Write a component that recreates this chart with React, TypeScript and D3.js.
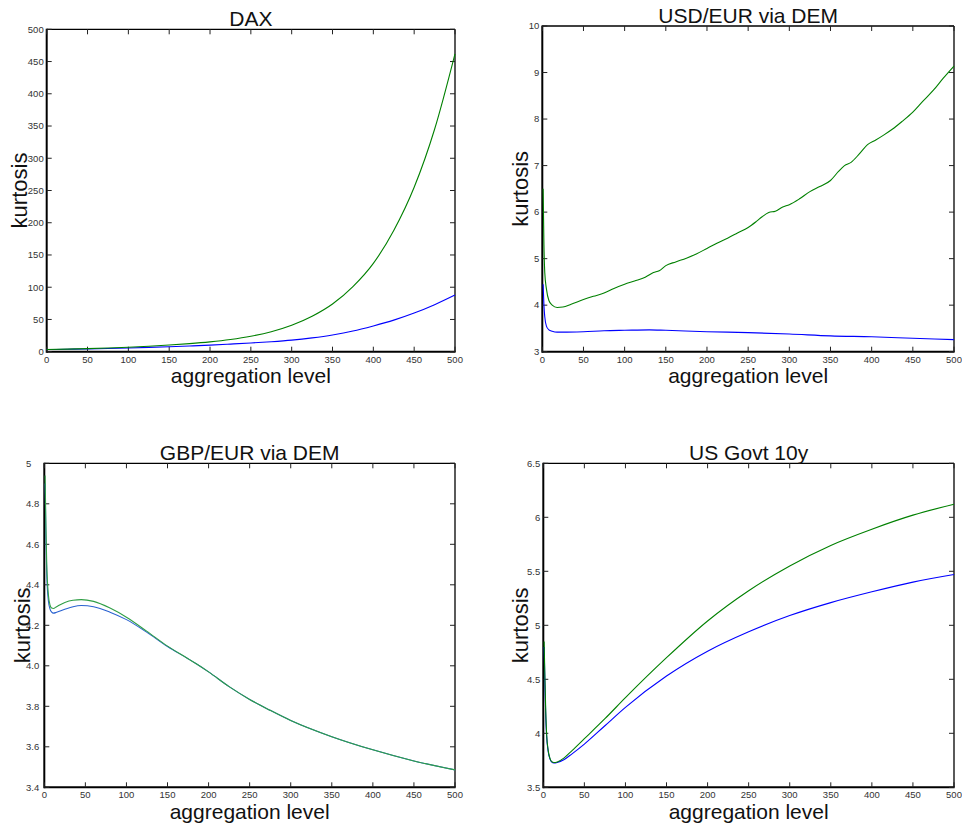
import React from "react";
import * as d3 from "d3";

// ---------- DATA ----------
const daxX = [0, 25, 50, 75, 100, 125, 150, 175, 200, 225, 250, 275, 300, 325, 350, 375, 400, 425, 450, 475, 500];
const daxGreen = [3.5, 4, 4.8, 5.8, 7, 8.5, 10.3, 12.5, 15.3, 19, 24, 31, 41, 55, 74, 101, 137, 188, 255, 345, 462];
const daxBlue = [3.3, 3.8, 4.3, 5, 5.8, 6.7, 7.7, 8.9, 10.2, 11.8, 13.5, 15.5, 18, 21.5, 26, 32, 40, 49, 60, 73, 88];

const usdGreenX = [1, 2, 3, 5, 8, 12, 18, 25, 35, 50, 62, 75, 87, 100, 112, 125, 135, 142, 150, 162, 175, 187, 200, 212, 225, 237, 250, 260, 267, 275, 283, 292, 300, 312, 325, 337, 350, 360, 367, 375, 385, 395, 405, 415, 425, 437, 450, 462, 475, 487, 500];
const usdGreen = [6.5, 5.3, 4.7, 4.35, 4.1, 4.0, 3.95, 3.96, 4.02, 4.12, 4.19, 4.26, 4.36, 4.45, 4.52, 4.6, 4.7, 4.74, 4.85, 4.93, 5.01, 5.1, 5.22, 5.33, 5.44, 5.55, 5.67, 5.8, 5.9, 5.99, 6.02, 6.11, 6.16, 6.28, 6.44, 6.55, 6.68, 6.88, 7.0, 7.07, 7.25, 7.45, 7.55, 7.66, 7.78, 7.95, 8.15, 8.38, 8.62, 8.88, 9.14];
const usdBlueX = [1, 2, 3, 5, 8, 12, 18, 25, 50, 75, 100, 130, 150, 200, 250, 300, 350, 400, 450, 500];
const usdBlue = [4.45, 4.0, 3.75, 3.55, 3.47, 3.44, 3.42, 3.42, 3.43, 3.45, 3.46, 3.47, 3.46, 3.43, 3.41, 3.38, 3.34, 3.32, 3.29, 3.26];

const gbpX = [1, 2, 3, 5, 7, 9, 11, 15, 25, 35, 45, 60, 80, 100, 125, 150, 175, 185, 200, 225, 250, 275, 300, 350, 400, 450, 500];
const gbpGreen = [4.94, 4.68, 4.5, 4.35, 4.3, 4.285, 4.283, 4.292, 4.313, 4.324, 4.327, 4.318, 4.285, 4.24, 4.17, 4.097, 4.035, 4.01, 3.97, 3.897, 3.834, 3.78, 3.73, 3.65, 3.585, 3.53, 3.486];
const gbpBlue = [4.9, 4.63, 4.45, 4.32, 4.28, 4.265, 4.26, 4.264, 4.279, 4.292, 4.298, 4.292, 4.265, 4.228, 4.165, 4.095, 4.035, 4.01, 3.97, 3.897, 3.834, 3.78, 3.73, 3.65, 3.585, 3.53, 3.486];

const govX = [1, 2, 3, 4, 6, 8, 10, 13, 17, 25, 35, 50, 75, 100, 150, 200, 250, 300, 350, 400, 450, 500];
const govGreen = [4.85, 4.5, 4.2, 4.0, 3.84, 3.77, 3.74, 3.73, 3.735, 3.77, 3.84, 3.95, 4.135, 4.33, 4.7, 5.04, 5.32, 5.55, 5.74, 5.89, 6.02, 6.12];
const govBlue = [4.8, 4.45, 4.15, 3.98, 3.83, 3.765, 3.735, 3.725, 3.73, 3.755, 3.81, 3.9, 4.07, 4.24, 4.53, 4.76, 4.94, 5.09, 5.21, 5.31, 5.4, 5.47];

const xTicks = [0, 50, 100, 150, 200, 250, 300, 350, 400, 450, 500];
const daxYTicks = [0, 50, 100, 150, 200, 250, 300, 350, 400, 450, 500];
const usdYTicks = [3, 4, 5, 6, 7, 8, 9, 10];
const gbpYTicks = [3.4, 3.6, 3.8, 4.0, 4.2, 4.4, 4.6, 4.8, 5];
const gbpYLabels = ["3.4", "3.6", "3.8", "4.0", "4.2", "4.4", "4.6", "4.8", "5"];
const govYTicks = [3.5, 4, 4.5, 5, 5.5, 6, 6.5];

const titles = ["DAX", "USD/EUR via DEM", "GBP/EUR via DEM", "US Govt 10y"];

// ---------- LAYOUT ----------
const FONT = "'Liberation Sans', Arial, Helvetica, sans-serif";

type Series = { xs: number[]; ys: number[]; color: string };
type Panel = {
  title: string;
  left: number; right: number; top: number; bottom: number;
  yDomain: [number, number];
  yTicks: number[];
  yLabels?: string[];
  ylabelX: number;
  tickStartX?: number;
  series: Series[];
};

const panels: Panel[] = [
  {
    title: titles[0], left: 46.7, right: 455, top: 29.3, bottom: 351.7,
    yDomain: [0, 500], yTicks: daxYTicks, ylabelX: 27,
    series: [
      { xs: daxX, ys: daxBlue, color: "#0000ff" },
      { xs: daxX, ys: daxGreen, color: "#008000" },
    ],
  },
  {
    title: titles[1], left: 542.3, right: 954, top: 26, bottom: 351.7,
    yDomain: [3, 10], yTicks: usdYTicks, ylabelX: 527.5,
    series: [
      { xs: usdBlueX, ys: usdBlue, color: "#0000ff" },
      { xs: usdGreenX, ys: usdGreen, color: "#008000" },
    ],
  },
  {
    title: titles[2], left: 44.3, right: 455, top: 463.3, bottom: 787.3,
    yDomain: [3.4, 5], yTicks: gbpYTicks, yLabels: gbpYLabels, ylabelX: 29.5, tickStartX: 26,
    series: [
      { xs: gbpX, ys: gbpBlue, color: "#2a62d0" },
      { xs: gbpX, ys: gbpGreen, color: "#2f9e45" },
    ],
  },
  {
    title: titles[3], left: 543.3, right: 954, top: 463.3, bottom: 787.3,
    yDomain: [3.5, 6.5], yTicks: govYTicks, ylabelX: 528,
    series: [
      { xs: govX, ys: govBlue, color: "#0000ff" },
      { xs: govX, ys: govGreen, color: "#008000" },
    ],
  },
];

function PanelView({ p }: { p: Panel }) {
  const x = d3.scaleLinear().domain([0, 500]).range([p.left, p.right]);
  const y = d3.scaleLinear().domain(p.yDomain).range([p.bottom, p.top]);
  const line = d3
    .line<[number, number]>()
    .x((d) => x(d[0]))
    .y((d) => y(d[1]))
    .curve(d3.curveMonotoneX);
  const TL = 5;
  const cx = (p.left + p.right) / 2;
  const cy = (p.top + p.bottom) / 2;
  return (
    <g>
      {/* box */}
      <line x1={p.left} x2={p.right} y1={p.top} y2={p.top} stroke="#000" strokeWidth={1.3} />
      <line x1={p.right} x2={p.right} y1={p.top} y2={p.bottom} stroke="#000" strokeWidth={1.3} />
      <line x1={p.left} x2={p.right + 0.6} y1={p.bottom} y2={p.bottom} stroke="#000" strokeWidth={2} />
      <line x1={p.left} x2={p.left} y1={p.top - 0.6} y2={p.bottom + 1} stroke="#000" strokeWidth={2} />
      {/* x ticks */}
      {xTicks.map((t) => (
        <g key={"x" + t}>
          <line x1={x(t)} x2={x(t)} y1={p.bottom} y2={p.bottom - TL} stroke="#222" strokeWidth={1} />
          <line x1={x(t)} x2={x(t)} y1={p.top} y2={p.top + TL} stroke="#222" strokeWidth={1} />
          <text x={x(t)} y={p.bottom + 11} textAnchor="middle" fontSize={9.5} fill="#333" fontFamily={FONT}>
            {t}
          </text>
        </g>
      ))}
      {/* y ticks */}
      {p.yTicks.map((t, i) => (
        <g key={"y" + t}>
          <line x1={p.left} x2={p.left + TL} y1={y(t)} y2={y(t)} stroke="#222" strokeWidth={1} />
          <line x1={p.right} x2={p.right - TL} y1={y(t)} y2={y(t)} stroke="#222" strokeWidth={1} />
          <text
            x={p.tickStartX !== undefined ? p.tickStartX : p.left - 3}
            y={y(t)}
            dy="0.35em"
            textAnchor={p.tickStartX !== undefined ? "start" : "end"}
            fontSize={9.5}
            fill="#333"
            fontFamily={FONT}
          >
            {p.yLabels ? p.yLabels[i] : String(t)}
          </text>
        </g>
      ))}
      {p.series.map((s, i) => (
        <path
          key={i}
          d={line(s.xs.map((v, j) => [v, s.ys[j]] as [number, number])) || ""}
          fill="none"
          stroke={s.color}
          strokeWidth={1.1}
        />
      ))}
      <text x={cx} y={p.top - 3} textAnchor="middle" fontSize={21} fill="#111" fontFamily={FONT}>
        {p.title}
      </text>
      <text x={cx} y={p.bottom + 31.5} textAnchor="middle" fontSize={21} fill="#111" fontFamily={FONT}>
        aggregation level
      </text>
      <text
        transform={`translate(${p.ylabelX},${cy}) rotate(-90)`}
        textAnchor="middle"
        fontSize={22}
        fill="#111"
        fontFamily={FONT}
      >
        kurtosis
      </text>
    </g>
  );
}

export default function App() {
  return (
    <svg
      width={962}
      height={826}
      style={{ position: "absolute", left: 0, top: 0, background: "#fff" }}
    >
      <rect width={962} height={826} fill="#fff" />
      {panels.map((p, i) => (
        <PanelView key={i} p={p} />
      ))}
    </svg>
  );
}
